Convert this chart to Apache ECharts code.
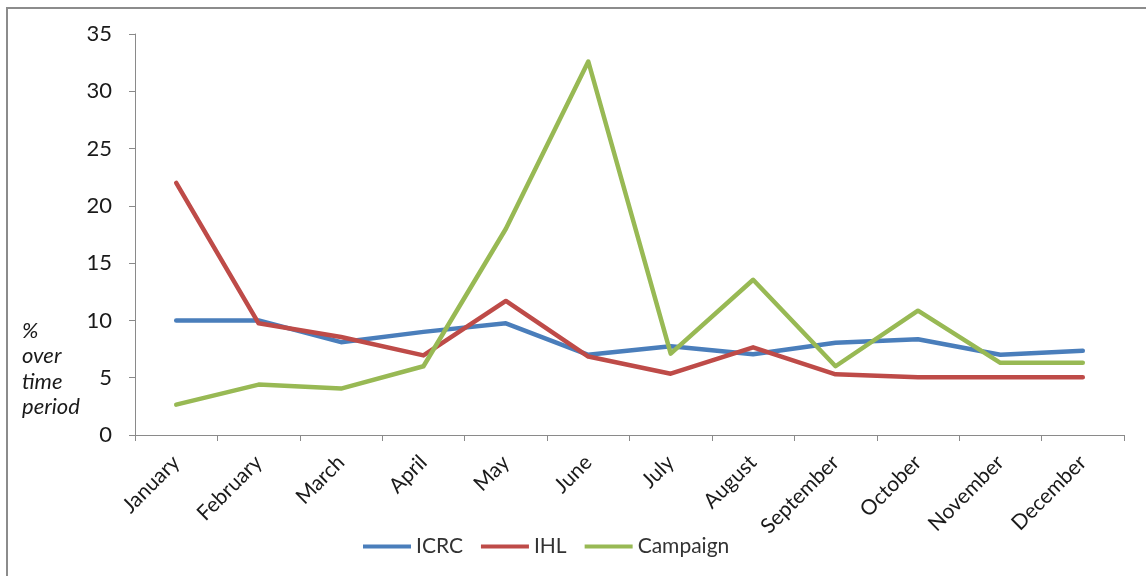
<!DOCTYPE html>
<html>
<head>
<meta charset="utf-8">
<script src="https://cdn.jsdelivr.net/npm/echarts@6/dist/echarts.min.js"></script>
<style>
  html, body { margin: 0; padding: 0; background: #ffffff; }
  #chart { width: 1146px; height: 576px; }
</style>
</head>
<body>
<div id="chart"></div>
<script>
// Monthly share (%) of each topic over the time period
const months = ['January', 'February', 'March', 'April', 'May', 'June', 'July',
                'August', 'September', 'October', 'November', 'December'];
const icrc     = [10, 10, 8.1, 9.0, 9.75, 7.0, 7.75, 7.05, 8.05, 8.35, 7.0, 7.35];
const ihl      = [22, 9.75, 8.55, 6.95, 11.7, 6.85, 5.35, 7.65, 5.3, 5.05, 5.05, 5.05];
const campaign = [2.65, 4.4, 4.05, 6.0, 18.0, 32.6, 7.1, 13.55, 6.0, 10.85, 6.3, 6.3];
const yTicks   = { min: 0, max: 35, interval: 5 };

const FONT = 'Lato, "Open Sans", sans-serif';
const chart = echarts.init(document.getElementById('chart'), null, { renderer: 'canvas' });

function lineSeries(name, data, color) {
  return {
    name: name,
    type: 'line',
    data: data,
    symbol: 'none',
    lineStyle: { width: 4.5, color: color, cap: 'round', join: 'round' },
    itemStyle: { color: color },
    emphasis: { disabled: true },
    animation: false
  };
}

chart.setOption({
  animation: false,
  backgroundColor: '#ffffff',
  grid: { left: 135, right: 22, top: 34, bottom: 141 },
  legend: {
    left: 358,
    top: 531,
    itemWidth: 48,
    itemHeight: 4,
    itemGap: 18,
    icon: 'rect',
    textStyle: { fontFamily: FONT, fontSize: 21, color: '#333333' },
    data: ['ICRC', 'IHL', 'Campaign']
  },
  xAxis: {
    type: 'category',
    data: months,
    boundaryGap: true,
    axisLine: { lineStyle: { color: '#8a8a8a', width: 1 } },
    axisTick: { show: true, length: 6, lineStyle: { color: '#8a8a8a' } },
    axisLabel: {
      rotate: 45,
      interval: 0,
      margin: 24,
      fontFamily: FONT,
      fontSize: 21,
      color: '#1a1a1a'
    },
    splitLine: { show: false }
  },
  yAxis: {
    type: 'value',
    min: yTicks.min,
    max: yTicks.max,
    interval: yTicks.interval,
    axisLine: { show: true, lineStyle: { color: '#8a8a8a', width: 1 } },
    axisTick: { show: true, length: 6, lineStyle: { color: '#8a8a8a' } },
    axisLabel: { margin: 23, fontFamily: FONT, fontSize: 22, color: '#1a1a1a' },
    splitLine: { show: false }
  },
  graphic: [
    {
      type: 'polyline',
      shape: { points: [[7, 576], [7, 8], [1146, 8]] },
      style: { stroke: '#8c8c8c', lineWidth: 2, fill: null },
      silent: true
    },
    {
      type: 'text',
      left: 22,
      top: 318,
      style: {
        text: '%\nover\ntime\nperiod',
        fontFamily: FONT,
        fontStyle: 'italic',
        fontSize: 22,
        lineHeight: 25.5,
        fill: '#1a1a1a'
      }
    }
  ],
  series: [
    lineSeries('ICRC', icrc, '#4a7ebb'),
    lineSeries('IHL', ihl, '#be4b48'),
    lineSeries('Campaign', campaign, '#98b954')
  ]
});
</script>
</body>
</html>
